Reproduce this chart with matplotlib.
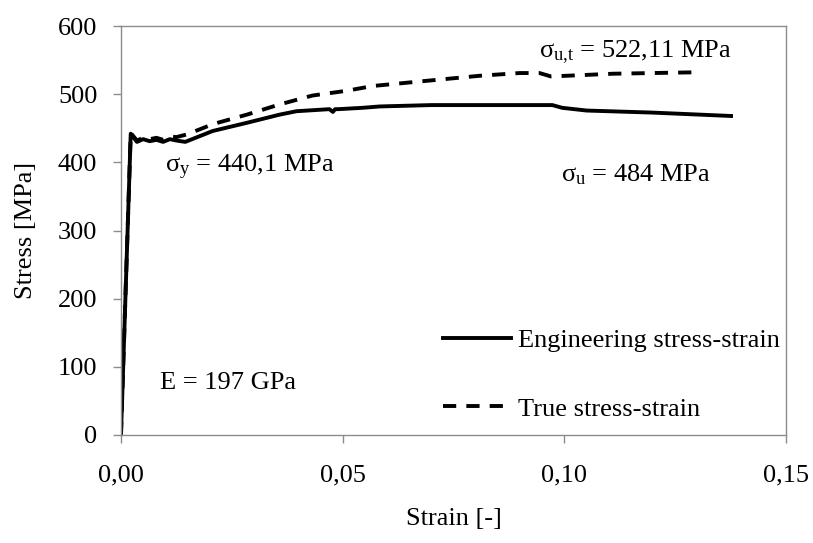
import matplotlib
matplotlib.use("Agg")
import matplotlib.pyplot as plt
import matplotlib.ticker as ticker

# engineering stress-strain curve
eng_strain = [0.0, 0.0022, 0.0036, 0.0050, 0.0065, 0.0080, 0.0095, 0.0110, 0.0125,
              0.0145, 0.0207, 0.0284, 0.0358, 0.0396, 0.0470, 0.0478, 0.0483, 0.0490,
              0.0545, 0.0584, 0.0700, 0.0800, 0.0900, 0.0973, 0.0995, 0.1050, 0.1198,
              0.1376]
eng_stress = [0, 442, 430, 434, 431, 433, 430, 434, 432,
              430, 446, 458, 470, 475, 478, 474, 478, 478,
              480, 482, 484, 484, 484, 484, 480, 476, 473,
              468]

# true stress-strain curve
true_strain = [0.0, 0.0022, 0.0036, 0.0050, 0.0065, 0.0080, 0.0095, 0.0110, 0.0125,
               0.0149, 0.0207, 0.0284, 0.0358, 0.0432, 0.0509, 0.0568, 0.0696, 0.0809,
               0.0899, 0.0944, 0.0970, 0.1005, 0.1110, 0.1288]
true_stress = [0, 443, 432, 436, 434, 436, 433, 438, 437,
               441, 456, 470, 485, 498, 505, 512, 520, 527,
               531, 531, 526, 527, 530, 532]

x_ticks = [0.0, 0.05, 0.10, 0.15]
y_ticks = [0, 100, 200, 300, 400, 500, 600]

plt.rcParams["font.family"] = ["Liberation Serif", "DejaVu Serif"]
plt.rcParams["mathtext.fontset"] = "custom"
plt.rcParams["mathtext.rm"] = "Liberation Serif"
plt.rcParams["mathtext.it"] = "Liberation Serif:italic"

fig = plt.figure(figsize=(8.13, 5.43), dpi=100)
ax = fig.add_axes([0.1488, 0.1989, 0.8180, 0.7532])

ax.plot(eng_strain, eng_stress, color="black", lw=2.8,
        label="Engineering stress-strain")
ax.plot(true_strain, true_stress, color="black", lw=2.8, dashes=(3.4, 2.6),
        label="True stress-strain")

ax.set_xlim(0, 0.15)
ax.set_ylim(0, 600)
ax.set_xticks(x_ticks)
ax.set_yticks(y_ticks)
ax.xaxis.set_major_formatter(ticker.FuncFormatter(lambda v, p: f"{v:.2f}".replace(".", ",")))

for sp in ax.spines.values():
    sp.set_color("#8c8c8c")
    sp.set_linewidth(1.0)
ax.tick_params(axis="both", direction="out", length=6, width=1.0,
               color="#8c8c8c", labelsize=19)
ax.tick_params(axis="x", pad=15)
ax.tick_params(axis="y", pad=11)

ax.set_xlabel("Strain [-]", fontsize=19, labelpad=16)
ax.set_ylabel("Stress [MPa]", fontsize=19, labelpad=15)

ax.text(0.0099, 393, r"σ$_\mathrm{y}$ = 440,1 MPa", fontsize=19, va="center")
ax.text(0.0992, 382, r"σ$_\mathrm{u}$ = 484 MPa", fontsize=19, va="center")
ax.text(0.0942, 562, r"σ$_\mathrm{u{,}t}$ = 522,11 MPa", fontsize=19, va="center")
ax.text(0.0088, 76, "E = 197 GPa", fontsize=19, va="center")

ax.legend(loc="lower left", bbox_to_anchor=(0.484, 0.035), frameon=False,
          fontsize=19, handlelength=2.6, handletextpad=0.25, labelspacing=1.7,
          borderpad=0, borderaxespad=0)

fig.savefig("out.png", dpi=100)
